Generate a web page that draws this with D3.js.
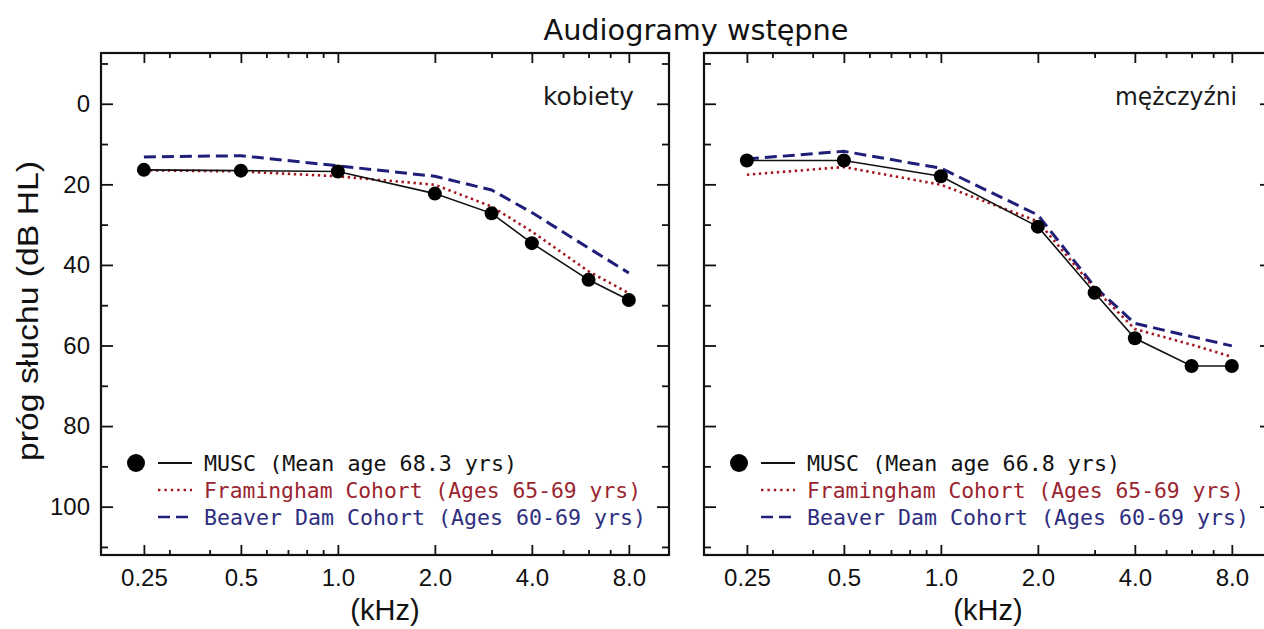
<!DOCTYPE html>
<html><head><meta charset="utf-8">
<script src="https://cdn.jsdelivr.net/npm/d3@7"></script>
<style>body{margin:0;background:#fff;} svg{display:block}</style>
</head><body><svg id="c" width="1264" height="629"></svg>
<script>
// ---- data ----
const freqs = [0.25, 0.5, 1, 2, 3, 4, 6, 8];
const xTickValues = [0.25, 0.5, 1, 2, 4, 8];
const xTickLabels = ["0.25", "0.5", "1.0", "2.0", "4.0", "8.0"];
const xMinorTicks = [0.3, 0.4, 0.6, 0.7, 0.8, 0.9, 3, 5, 6, 7];
const yTickValues = [0, 20, 40, 60, 80, 100];
const yMinorTicks = [-10, 10, 30, 50, 70, 90, 110];
const panelNames = ["kobiety", "mężczyźni"];
const muscLabels = ["MUSC (Mean age 68.3 yrs)", "MUSC (Mean age 66.8 yrs)"];
const framLabel = "Framingham Cohort (Ages 65-69 yrs)";
const beaverLabel = "Beaver Dam Cohort (Ages 60-69 yrs)";
const muscWomen   = [16.4, 16.6, 16.8, 22.3, 27.2, 34.6, 43.7, 48.7];
const framWomen   = [16.5, 16.8, 18.0, 20.1, 25.5, 31.7, 41.6, 47.0];
const beaverWomen = [13.2, 12.9, 15.4, 18.0, 21.4, 27.0, 35.8, 42.0];
const muscMen     = [14.1, 14.1, 18.0, 30.5, 46.9, 58.2, 65.1, 65.1];
const framMen     = [17.6, 15.7, 20.1, 29.2, 45.9, 55.9, 59.8, 62.8];
const beaverMen   = [13.7, 11.8, 16.0, 27.6, 45.4, 54.5, 57.8, 60.1];
const titleText = "Audiogramy wstępne";
const yLabelText = "próg słuchu (dB HL)";
const xLabelText = "(kHz)";

// ---- layout ----
const svg = d3.select("#c");
const W = 568, H = 502, TOP = 53;
const panelLefts = [101, 704];
const RED = "#a3171f", BLUE = "#1f1f7a";
const RED_T = "#9a2530", BLUE_T = "#2e2e80";

const x = d3.scaleLog().domain([0.184, 10.66]).range([0, W]);
const y = d3.scaleLinear().domain([-12.6, 112]).range([0, H]);

svg.append("text").attr("x", 696).attr("y", 40).attr("text-anchor", "middle")
  .attr("font-family", "DejaVu Sans").attr("font-size", 29).attr("fill", "#111")
  .attr("textLength", 305).attr("lengthAdjust", "spacingAndGlyphs").text(titleText);

svg.append("text").attr("transform", "translate(38,311) rotate(-90)").attr("text-anchor", "middle")
  .attr("font-family", "Liberation Sans").attr("font-size", 30).attr("fill", "#111")
  .attr("textLength", 300).attr("lengthAdjust", "spacingAndGlyphs").text(yLabelText);

const panels = [
  {musc: muscWomen, fram: framWomen, beaver: beaverWomen},
  {musc: muscMen, fram: framMen, beaver: beaverMen}
];
const nameLens = [91, 122];

panels.forEach((p, i) => {
  const g = svg.append("g").attr("transform", `translate(${panelLefts[i]},${TOP})`);
  const fontAxis = "Liberation Sans";

  // axes ticks
  const ax = g.append("g").attr("transform", `translate(0,${H})`)
    .call(d3.axisBottom(x).tickValues(xTickValues).tickSizeInner(-10).tickSizeOuter(0)
      .tickPadding(14).tickFormat((d, k) => xTickLabels[k]));
  ax.selectAll("text").attr("font-family", fontAxis).attr("font-size", 24).attr("fill", "#111");
  g.append("g").attr("transform", `translate(0,${H})`)
    .call(d3.axisBottom(x).tickValues(xMinorTicks).tickSizeInner(-5).tickSizeOuter(0).tickFormat(""));
  g.append("g").call(d3.axisTop(x).tickValues(xTickValues).tickSizeInner(-10).tickSizeOuter(0).tickFormat(""));
  g.append("g").call(d3.axisTop(x).tickValues(xMinorTicks).tickSizeInner(-5).tickSizeOuter(0).tickFormat(""));

  const ay = g.append("g")
    .call(d3.axisLeft(y).tickValues(yTickValues).tickSizeInner(-12).tickSizeOuter(0).tickPadding(11));
  if (i === 0) {
    ay.selectAll("text").attr("font-family", fontAxis).attr("font-size", 24).attr("fill", "#111");
  } else {
    ay.selectAll("text").remove();
  }
  g.append("g").call(d3.axisLeft(y).tickValues(yMinorTicks).tickSizeInner(-7).tickSizeOuter(0).tickFormat(""));
  g.append("g").attr("transform", `translate(${W},0)`)
    .call(d3.axisRight(y).tickValues(yTickValues).tickSizeInner(-12).tickSizeOuter(0).tickFormat(""));
  g.append("g").attr("transform", `translate(${W},0)`)
    .call(d3.axisRight(y).tickValues(yMinorTicks).tickSizeInner(-7).tickSizeOuter(0).tickFormat(""));
  g.selectAll(".domain").remove();
  g.selectAll(".tick line").attr("stroke", "#111").attr("stroke-width", 1.8);

  g.append("rect").attr("x", 0).attr("y", 0).attr("width", W).attr("height", H)
    .attr("fill", "none").attr("stroke", "#111").attr("stroke-width", 2.2);

  // x label
  g.append("text").attr("x", W / 2).attr("y", 620 - TOP).attr("text-anchor", "middle")
    .attr("font-family", fontAxis).attr("font-size", 29).attr("fill", "#111").text(xLabelText);

  // panel name
  g.append("text").attr("x", W - 35).attr("y", 105 - TOP).attr("text-anchor", "end")
    .attr("font-family", "DejaVu Sans").attr("font-size", 25).attr("fill", "#1a1a1a")
    .attr("textLength", nameLens[i]).attr("lengthAdjust", "spacingAndGlyphs").text(panelNames[i]);

  // series
  const line = d3.line().x((d, k) => x(freqs[k])).y(d => y(d));
  g.append("path").datum(p.beaver).attr("d", line).attr("fill", "none")
    .attr("stroke", BLUE).attr("stroke-width", 3).attr("stroke-dasharray", "12,6");
  g.append("path").datum(p.fram).attr("d", line).attr("fill", "none")
    .attr("stroke", RED).attr("stroke-width", 2.6).attr("stroke-dasharray", "2.4,3.6");
  g.append("path").datum(p.musc).attr("d", line).attr("fill", "none")
    .attr("stroke", "#111").attr("stroke-width", 1.6);
  g.selectAll("circle.pt").data(p.musc).enter().append("circle").attr("class", "pt")
    .attr("cx", (d, k) => x(freqs[k])).attr("cy", d => y(d)).attr("r", 7).attr("fill", "#000");

  // legend
  const lg = g.append("g");
  const rows = [
    {label: muscLabels[i], color: "#111", dash: null, w: 1.8, tw: 313},
    {label: framLabel, color: RED, dash: "2.4,4", w: 2.4, tw: 437, tc: RED_T},
    {label: beaverLabel, color: BLUE, dash: "12,6", w: 2.4, tw: 442, tc: BLUE_T}
  ];
  const rowY = [463, 490, 517].map(v => v - TOP);
  lg.append("circle").attr("cx", 35).attr("cy", rowY[0]).attr("r", 9).attr("fill", "#000");
  rows.forEach((r, k) => {
    lg.append("line").attr("x1", 57).attr("x2", 91).attr("y1", rowY[k]).attr("y2", rowY[k])
      .attr("stroke", r.color).attr("stroke-width", r.w).attr("stroke-dasharray", r.dash);
    lg.append("text").attr("x", 103).attr("y", rowY[k] + 8)
      .attr("font-family", "DejaVu Sans Mono").attr("font-size", 21.5)
      .attr("fill", r.tc || "#111")
      .attr("textLength", r.tw).attr("lengthAdjust", "spacingAndGlyphs").text(r.label);
  });
});
</script>
</body></html>
